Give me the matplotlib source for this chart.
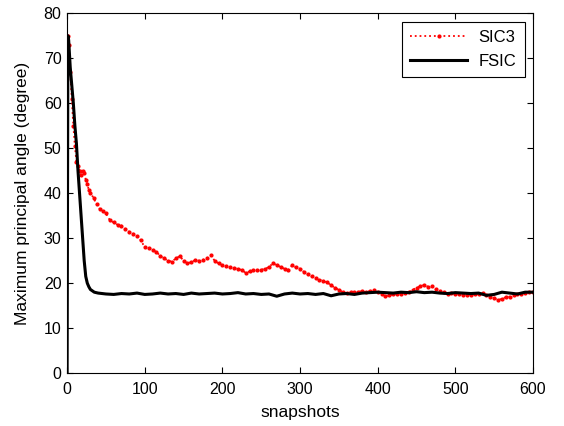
import matplotlib
matplotlib.use('Agg')
from matplotlib import pyplot as plt

plt.rcParams['font.family'] = ['Liberation Sans', 'DejaVu Sans']

# FSIC (black solid)
fsic_x = [0, 1, 2, 4, 6, 8, 10, 12, 14, 16, 18, 20, 22, 24, 26, 28, 30, 35, 40,
          50, 60, 70, 80, 90, 100, 110, 120, 130, 140, 150, 160, 170, 180, 190,
          200, 210, 220, 230, 240, 250, 260, 270, 280, 290, 300, 310, 320, 330,
          340, 350, 360, 370, 380, 390, 400, 410, 420, 430, 440, 450, 460, 470,
          480, 490, 500, 510, 520, 530, 540, 550, 560, 570, 580, 590, 600]
fsic_y = [0, 75, 74, 68, 64, 60, 55, 51, 45, 40, 35, 30, 25, 21.5, 20, 19.2, 18.6, 18.0, 17.8,
          17.6, 17.5, 17.7, 17.6, 17.8, 17.5, 17.6, 17.8, 17.6, 17.7, 17.5, 17.8, 17.6, 17.7, 17.8,
          17.6, 17.7, 17.9, 17.6, 17.7, 17.5, 17.6, 17.1, 17.6, 17.8, 17.6, 17.7, 17.5, 17.7,
          17.2, 17.6, 17.7, 17.5, 17.8, 17.9, 18.0, 17.9, 17.8, 18.0, 17.9, 18.1, 17.9, 18.0,
          17.8, 17.7, 17.9, 17.8, 17.7, 17.8, 17.3, 17.5, 18.0, 17.8, 17.6, 18.0, 18.0]

# SIC3 (red dotted)
sic3_x = [1, 2, 4, 6, 8, 10, 12, 14, 16, 18, 20, 22, 24, 26, 28, 30, 34, 38, 42, 46,
          50, 55, 60, 65, 70, 75, 80, 85, 90, 95, 100, 105, 110, 115, 120, 125, 130,
          135, 140, 145, 150, 155, 160, 165, 170, 175, 180, 185, 190, 195, 200, 205,
          210, 215, 220, 225, 230, 235, 240, 245, 250, 255, 260, 265, 270, 275, 280,
          285, 290, 295, 300, 305, 310, 315, 320, 325, 330, 335, 340, 345, 350, 355,
          360, 365, 370, 375, 380, 385, 390, 395, 400, 405, 410, 415, 420, 425, 430,
          435, 440, 445, 450, 455, 460, 465, 470, 475, 480, 485, 490, 495, 500, 505,
          510, 515, 520, 525, 530, 535, 540, 545, 550, 555, 560, 565, 570, 575, 580,
          585, 590, 595, 600]
sic3_y = [75, 73, 67, 61, 55, 50.5, 47, 46, 45, 44, 45, 44.5, 43, 42, 40.7, 40, 39, 37.5, 36.5, 36,
          35.5, 34, 33.5, 33, 32.8, 32, 31.4, 31, 30.5, 29.5, 28, 27.8, 27.3, 27, 26, 25.5, 25,
          24.8, 25.5, 26, 25, 24.4, 24.7, 25.1, 25, 25.2, 25.5, 26.2, 25, 24.4, 24, 23.8,
          23.6, 23.3, 23.2, 22.9, 22.3, 22.6, 22.9, 22.9, 23, 23.2, 23.6, 24.4, 24, 23.6, 23.2,
          23, 24, 23.5, 23.2, 22.5, 22, 21.5, 21.2, 20.8, 20.4, 20.2, 19.5, 19, 18.5, 18,
          17.8, 18, 18, 18.1, 18.2, 18, 18.3, 18.4, 18.1, 17.6, 17.1, 17.3, 17.5, 17.7, 17.6,
          17.8, 18, 18.5, 19, 19.3, 19.6, 19.2, 19.3, 18.6, 18.2, 18, 17.7, 17.8, 17.7, 17.5,
          17.4, 17.3, 17.4, 17.6, 17.7, 17.8, 17.4, 17, 16.6, 16.3, 16.5, 16.9, 17, 17.3, 17.6,
          17.7, 17.9, 18, 18.1]

fig = plt.figure(figsize=(5.64, 4.26), dpi=100)
ax = fig.add_axes([0.119, 0.124, 0.826, 0.845])

ax.plot(sic3_x, sic3_y, color='red', linestyle=':', marker='.', markersize=4,
        linewidth=1.3, label='SIC3')
ax.plot(fsic_x, fsic_y, color='black', linewidth=2.2, label='FSIC')

ax.set_xlim(0, 600)
ax.set_ylim(0, 80)
ax.set_xticks(range(0, 601, 100))
ax.set_yticks(range(0, 81, 10))
ax.tick_params(direction='in', top=True, right=True, length=4, labelsize=11.5)
ax.tick_params(axis='x', pad=6)
ax.tick_params(axis='y', pad=4)
ax.set_xlabel('snapshots', fontsize=12.5, labelpad=6)
ax.set_ylabel('Maximum principal angle (degree)', fontsize=12.5, labelpad=10)

leg = ax.legend(loc='upper right', fontsize=12, fancybox=False, framealpha=1,
                edgecolor='black', borderpad=0.5, handlelength=3.4, handletextpad=0.7,
                labelspacing=0.55, borderaxespad=0.5)
leg.get_frame().set_linewidth(0.8)

fig.savefig('out.png', dpi=100)
